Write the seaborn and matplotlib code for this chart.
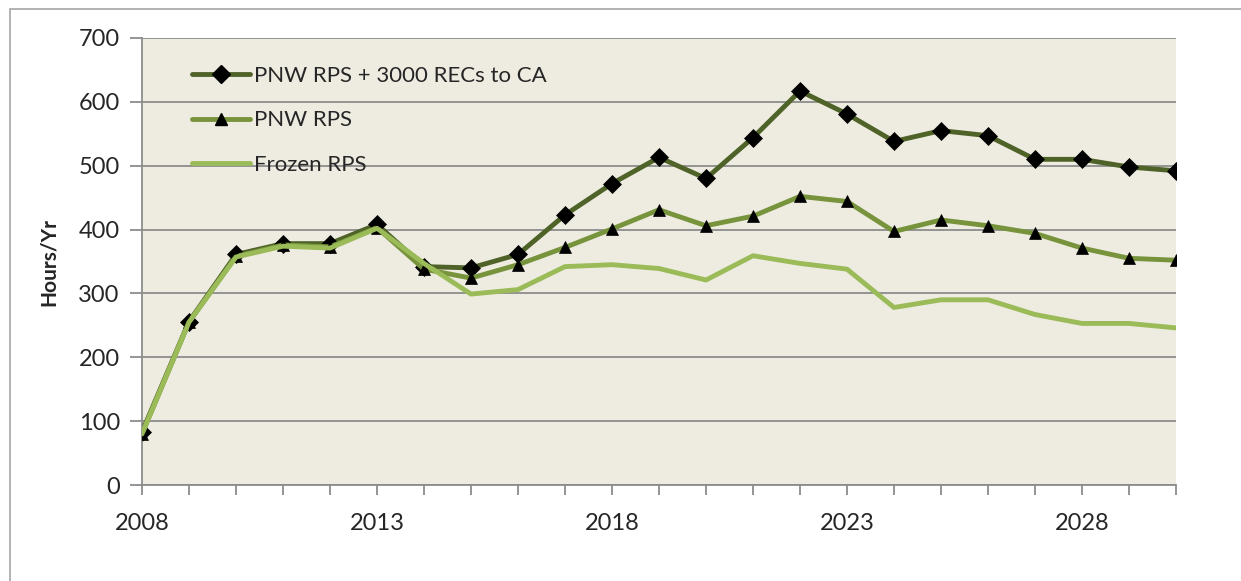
import matplotlib
matplotlib.use("Agg")
import matplotlib.pyplot as plt
import seaborn as sns
import pandas as pd
from matplotlib.patches import Rectangle
from matplotlib.lines import Line2D

years = list(range(2008, 2031))
recs_to_ca = [83, 256, 361, 378, 378, 408, 342, 340, 361, 423, 472, 513, 480, 544, 617, 581, 538, 555, 547, 510, 510, 498, 492]
pnw_rps = [80, 255, 358, 376, 373, 403, 338, 324, 345, 372, 401, 431, 406, 421, 452, 444, 397, 415, 406, 394, 371, 355, 352]
frozen_rps = [80, 255, 357, 374, 371, 402, 347, 299, 306, 342, 345, 339, 321, 359, 347, 338, 278, 290, 290, 267, 253, 253, 246]
series_names = ["PNW RPS + 3000 RECs to CA", "PNW RPS", "Frozen RPS"]
xtick_labels = [2008, 2013, 2018, 2023, 2028]
yticks = [0, 100, 200, 300, 400, 500, 600, 700]

df = pd.DataFrame({
    "year": years * 3,
    "value": recs_to_ca + pnw_rps + frozen_rps,
    "series": [series_names[0]] * len(years) + [series_names[1]] * len(years) + [series_names[2]] * len(years),
})

sns.set_theme(style="white")
plt.rcParams["font.family"] = ["Lato", "DejaVu Sans"]

fig = plt.figure(figsize=(12.41, 5.81), dpi=100)
ax = fig.add_axes([142 / 1241, 1 - 485 / 581, (1176 - 142) / 1241, (485 - 38) / 581])

# outer frame
fig.patches.append(Rectangle((10 / 1241, 0 - 0.05), 1.1, 1 - 9 / 581 + 0.05, transform=fig.transFigure,
                             fill=False, edgecolor="#A6A6A6", linewidth=1.2, zorder=0))

ax.set_facecolor("#EEECE1")
palette = {series_names[0]: "#4F6228", series_names[1]: "#77933C", series_names[2]: "#9BBB59"}
markers = {series_names[0]: "D", series_names[1]: "^", series_names[2]: ""}

sns.lineplot(data=df, x="year", y="value", hue="series", palette=palette, ax=ax,
             linewidth=3.5, legend=False, sort=False)

for line, name in zip(ax.lines, series_names):
    if markers[name]:
        line.set_marker(markers[name])
        line.set_markersize(9)
        line.set_markerfacecolor("black")
        line.set_markeredgecolor("black")
        line.set_markeredgewidth(0.5)

ax.lines[0].set_zorder(2)
ax.lines[1].set_zorder(3)
ax.lines[2].set_zorder(4)

ax.set_xlim(2008, 2030)
ax.set_ylim(0, 700)
ax.set_yticks(yticks)
ax.set_xticks(xtick_labels)
ax.set_xticks(years, minor=True)
ax.set_xticklabels([str(v) for v in xtick_labels])
ax.grid(axis="y", color="#8C8C8C", linewidth=1.3)
ax.set_axisbelow(True)

for s in ["top", "right"]:
    ax.spines[s].set_visible(False)
for s in ["left", "bottom"]:
    ax.spines[s].set_color("#8C8C8C")
    ax.spines[s].set_linewidth(1.3)

ax.tick_params(axis="y", which="major", length=9, width=1.3, color="#8C8C8C", labelsize=17, pad=7, left=True)
ax.tick_params(axis="x", which="both", length=7, width=1.3, color="#8C8C8C", bottom=True)
ax.tick_params(axis="x", which="major", labelsize=17, pad=13)

ax.set_xlabel("")
ax.set_ylabel("Hours/Yr", fontsize=15, fontweight="bold", labelpad=14)

handles = [
    Line2D([], [], color=palette[series_names[0]], lw=3.5, marker="D", markersize=9, mfc="black", mec="black"),
    Line2D([], [], color=palette[series_names[1]], lw=3.5, marker="^", markersize=9, mfc="black", mec="black"),
    Line2D([], [], color=palette[series_names[2]], lw=3.5),
]
leg = ax.legend(handles, series_names, loc="upper left", bbox_to_anchor=(0.029, 0.982), frameon=False,
                fontsize=16, handlelength=2.6, handletextpad=0.2, labelspacing=1.1)

fig.savefig("out.png", dpi=100, facecolor="white")
